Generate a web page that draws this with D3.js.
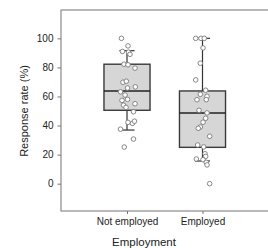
<!DOCTYPE html>
<html>
<head>
<meta charset="utf-8">
<script src="https://cdn.jsdelivr.net/npm/d3@7"></script>
<style>
  body { margin: 0; background: #fff; }
  text { font-family: "Liberation Sans", Arial, sans-serif; fill: #222; }
</style>
</head>
<body>
<div id="chart"></div>
<script>
var categories = ["Not employed", "Employed"];
var yTicks = [0, 20, 40, 60, 80, 100];

// box statistics
var q1 = [50.5, 25.0];
var median = [63.8, 48.6];
var q3 = [82.2, 63.8];
var whiskerLow = [36.9, 15.6];
var whiskerHigh = [91.5, 100];

// individual responses (value, jitter in category units)
var notEmployed = [100, 94.8, 91, 90.5, 89, 82.2, 81.8, 79.5, 69.8, 70.5, 65.8, 66.6, 63.2,
  61, 57.3, 58, 55, 54, 52.5, 49.5, 42.2, 41.5, 43, 37.5, 30.7, 25.2];
var notEmployedJitter = [-0.073, 0.013, -0.06, 0.02, 0.04, -0.04, 0.013, 0.106, -0.053, -0.009,
  0.007, 0.11, -0.086, -0.026, -0.066, 0.007, 0.106, -0.046, -0.013, 0.086, 0.013, 0.073,
  0.099, -0.086, 0.086, -0.036];
var employed = [100, 100, 100, 93.4, 82.9, 71.4, 64.3, 61.5, 60.1, 57.8, 57.8, 50.5, 48.7, 45,
  42.3, 39, 38.1, 32.6, 26.6, 25.3, 20.6, 18.8, 17, 16.5, 14.7, 12.9, 0];
var employedJitter = [-0.09, -0.02, 0.024, 0.007, -0.029, -0.09, 0.042, -0.029, 0.06, -0.073,
  0.05, -0.046, 0.06, 0.042, 0.007, -0.029, -0.056, 0.095, -0.064, 0.016, 0.033, 0.042,
  -0.082, 0.007, 0.05, 0.06, 0.095];

(function () {
  var w = 268, h = 248;
  var pLeft = 61, pTop = 10, pBottom = 211, pRight = 270;

  var svg = d3.select("#chart").append("svg").attr("width", w).attr("height", h);

  var y = d3.scaleLinear().domain([-18.8, 119.5]).range([pBottom, pTop]);
  // category positions on a continuous scale so jitter can be applied
  var x = d3.scaleLinear().domain([1, 2]).range([127, 202.5]);
  var boxW = 0.61, capW = 0.2;

  // frame
  svg.append("rect")
    .attr("x", pLeft).attr("y", pTop)
    .attr("width", pRight - pLeft).attr("height", pBottom - pTop)
    .attr("fill", "none").attr("stroke", "#8a8a8a").attr("stroke-width", 1.2);

  // y axis
  var yAxis = svg.append("g").attr("transform", "translate(" + pLeft + ",0)")
    .call(d3.axisLeft(y).tickValues(yTicks).tickSize(3.5).tickPadding(4));
  yAxis.select(".domain").remove();
  yAxis.selectAll("line").attr("stroke", "#777");
  yAxis.selectAll("text").style("font-size", "10px").attr("fill", "#222")
    .style("font-family", "Liberation Sans, Arial, sans-serif");

  // x axis
  var xAxis = svg.append("g").attr("transform", "translate(0," + pBottom + ")")
    .call(d3.axisBottom(x).tickValues([1, 2]).tickFormat(function (d) { return categories[d - 1]; })
      .tickSize(3).tickPadding(4));
  xAxis.select(".domain").remove();
  xAxis.selectAll("line").attr("stroke", "#777");
  xAxis.selectAll("text").style("font-size", "10px").attr("fill", "#222")
    .style("font-family", "Liberation Sans, Arial, sans-serif");

  // axis titles
  svg.append("text").attr("x", 144).attr("y", 245.5).attr("text-anchor", "middle")
    .style("font-size", "11.5px").text("Employment");
  svg.append("text").attr("transform", "translate(28," + y(50) + ") rotate(-90)")
    .attr("text-anchor", "middle").style("font-size", "11px").text("Response rate (%)");

  // boxes
  var stats = categories.map(function (c, i) {
    return { i: i + 1, q1: q1[i], med: median[i], q3: q3[i], lo: whiskerLow[i], hi: whiskerHigh[i] };
  });

  var g = svg.append("g");
  var boxes = g.selectAll("g.box").data(stats).enter().append("g").attr("class", "box");

  boxes.append("line")
    .attr("x1", function (d) { return x(d.i); }).attr("x2", function (d) { return x(d.i); })
    .attr("y1", function (d) { return y(d.lo); }).attr("y2", function (d) { return y(d.hi); })
    .attr("stroke", "#333").attr("stroke-width", 1.2);
  boxes.selectAll("line.cap").data(function (d) { return [{ i: d.i, v: d.lo }, { i: d.i, v: d.hi }]; })
    .enter().append("line").attr("class", "cap")
    .attr("x1", function (d) { return x(d.i - capW / 2); }).attr("x2", function (d) { return x(d.i + capW / 2); })
    .attr("y1", function (d) { return y(d.v); }).attr("y2", function (d) { return y(d.v); })
    .attr("stroke", "#333").attr("stroke-width", 1.2);
  boxes.append("rect")
    .attr("x", function (d) { return x(d.i - boxW / 2); })
    .attr("width", function (d) { return x(d.i + boxW / 2) - x(d.i - boxW / 2); })
    .attr("y", function (d) { return y(d.q3); })
    .attr("height", function (d) { return y(d.q1) - y(d.q3); })
    .attr("fill", "#d6d6d6").attr("stroke", "#3a3a3a").attr("stroke-width", 1.4);
  boxes.append("line")
    .attr("x1", function (d) { return x(d.i - boxW / 2); }).attr("x2", function (d) { return x(d.i + boxW / 2); })
    .attr("y1", function (d) { return y(d.med); }).attr("y2", function (d) { return y(d.med); })
    .attr("stroke", "#222").attr("stroke-width", 1.4);

  // points
  var pts = [];
  notEmployed.forEach(function (v, k) { pts.push({ i: 1, v: v, j: notEmployedJitter[k] }); });
  employed.forEach(function (v, k) { pts.push({ i: 2, v: v, j: employedJitter[k] }); });

  g.selectAll("circle").data(pts).enter().append("circle")
    .attr("cx", function (d) { return x(d.i + d.j); })
    .attr("cy", function (d) { return y(d.v); })
    .attr("r", 2.3)
    .attr("fill", "#fff").attr("stroke", "#7a7a7a").attr("stroke-width", 0.9);
})();
</script>
</body>
</html>
